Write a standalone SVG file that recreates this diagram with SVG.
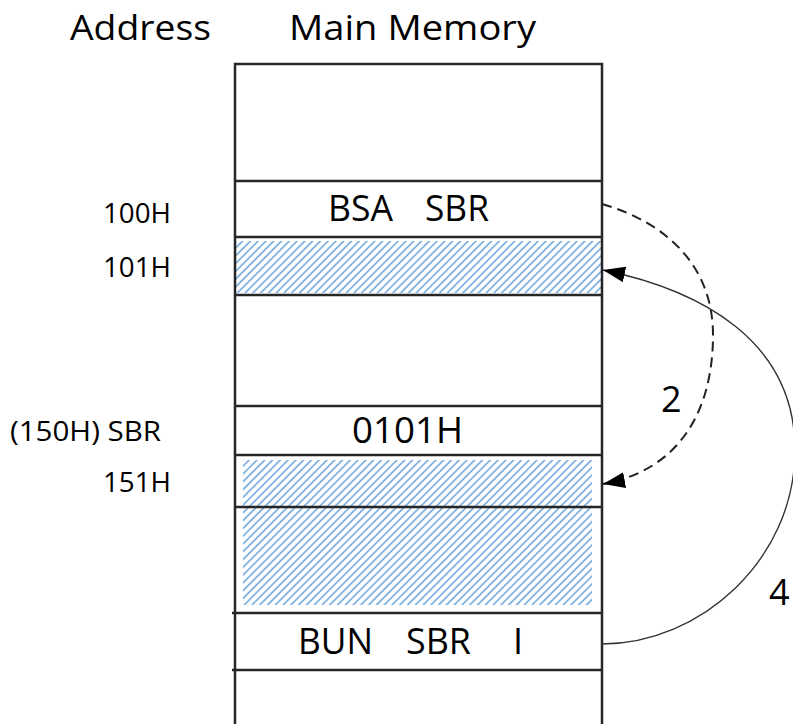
<svg xmlns="http://www.w3.org/2000/svg" width="793" height="724" viewBox="0 0 793 724">
<style>
  text { font-family: "Open Sans", "Noto Sans", "Liberation Sans", sans-serif; fill: #000; }
  .title { font-size: 35px; }
  .addr { font-size: 28px; }
  .cell { font-size: 36px; }
  .lbl { font-size: 36px; }
  .box { fill: none; stroke: #262626; stroke-width: 2.5; }
  .sep { stroke: #262626; stroke-width: 2.5; }
  .hatch { fill: url(#hatch); }
  .conn { fill: none; stroke: #333; stroke-width: 1.4; }
  .dash { fill: none; stroke: #222; stroke-width: 2; stroke-dasharray: 10 6; }
</style>
<defs>
  <pattern id="hatch" patternUnits="userSpaceOnUse" width="5.5" height="6" patternTransform="rotate(45)">
    <line x1="1" y1="0" x2="1" y2="6" stroke="#72a8de" stroke-width="1.6"/>
  </pattern>
  <marker id="arr" markerUnits="userSpaceOnUse" markerWidth="22" markerHeight="16" refX="22" refY="8" orient="auto">
    <path d="M0,0 L22,8 L0,16 z" fill="#000"/>
  </marker>
</defs>

<text class="title" x="70" y="40" textLength="141" lengthAdjust="spacingAndGlyphs">Address</text>
<text class="title" x="289" y="40" textLength="247" lengthAdjust="spacingAndGlyphs">Main Memory</text>

<g id="memory">
  <rect class="hatch" x="235" y="241" width="366" height="52"/>
  <rect class="hatch" x="243" y="460" width="349" height="145"/>
  <path class="box" d="M235,724 V64 H602 V724"/>
  <line class="sep" x1="235" y1="181" x2="602" y2="181"/>
  <line class="sep" x1="235" y1="237" x2="602" y2="237"/>
  <line class="sep" x1="235" y1="295" x2="602" y2="295"/>
  <line class="sep" x1="235" y1="406" x2="602" y2="406"/>
  <line class="sep" x1="235" y1="455" x2="602" y2="455"/>
  <line class="sep" x1="235" y1="507" x2="602" y2="507"/>
  <line class="sep" x1="232" y1="613" x2="602" y2="613"/>
  <line class="sep" x1="232" y1="670" x2="602" y2="670"/>
</g>

<g id="cell-100H">
  <text class="addr" x="103" y="223" textLength="68" lengthAdjust="spacingAndGlyphs">100H</text>
  <text class="cell" x="328" y="221" textLength="65" lengthAdjust="spacingAndGlyphs">BSA</text>
  <text class="cell" x="425" y="221" textLength="64" lengthAdjust="spacingAndGlyphs">SBR</text>
</g>
<g id="cell-101H">
  <text class="addr" x="103" y="277" textLength="68" lengthAdjust="spacingAndGlyphs">101H</text>
</g>
<g id="cell-150H">
  <text class="addr" x="10" y="441" textLength="151" lengthAdjust="spacingAndGlyphs">(150H) SBR</text>
  <text class="cell" x="352" y="443" textLength="111" lengthAdjust="spacingAndGlyphs">0101H</text>
</g>
<g id="cell-151H">
  <text class="addr" x="103" y="492" textLength="68" lengthAdjust="spacingAndGlyphs">151H</text>
</g>
<g id="cell-bun">
  <text class="cell" x="298" y="654" textLength="75" lengthAdjust="spacingAndGlyphs">BUN</text>
  <text class="cell" x="406" y="654" textLength="65" lengthAdjust="spacingAndGlyphs">SBR</text>
  <text class="cell" x="513" y="654">I</text>
</g>

<g id="connectors">
  <path class="dash" d="M602,204 C665,222 713,265 713,335 C713,410 680,470 603,484" marker-end="url(#arr)"/>
  <path class="conn" d="M602,644 C700,644 795,560 795,450 C795,340 700,290 603,270" marker-end="url(#arr)"/>
  <text class="lbl" x="661" y="412">2</text>
  <text class="lbl" x="769" y="605">4</text>
</g>
</svg>
